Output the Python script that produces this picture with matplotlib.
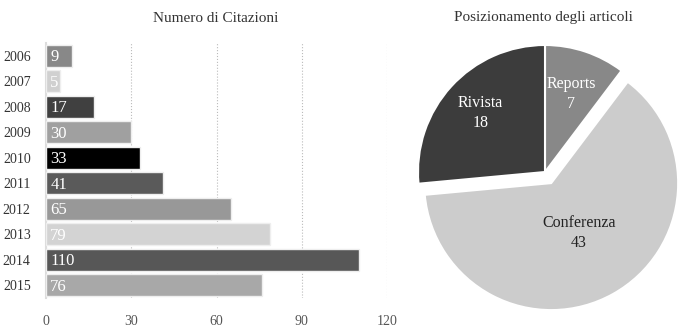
import numpy as np
import matplotlib
matplotlib.use("Agg")
import matplotlib.pyplot as plt

plt.rcParams['font.family'] = ['Liberation Serif', 'DejaVu Serif']

years = ["2006", "2007", "2008", "2009", "2010", "2011", "2012", "2013", "2014", "2015"]
citations = [9, 5, 17, 30, 33, 41, 65, 79, 110, 76]
bar_colors = ["#888888", "#d0d0d0", "#404040", "#a0a0a0", "#000000",
              "#5a5a5a", "#989898", "#d3d3d3", "#575757", "#a8a8a8"]

pie_labels = ["Reports", "Conferenza", "Rivista"]
pie_values = [7, 43, 18]
pie_colors = ["#888888", "#cccccc", "#3c3c3c"]

W, H = 689, 333
fig = plt.figure(figsize=(W / 100, H / 100), dpi=100)

# --- bar chart ---
ax = fig.add_axes([46 / W, 1 - 298 / H, (387 - 46) / W, (298 - 43) / H])
idx = np.arange(len(years))
ax.barh(idx, citations, height=0.88, color=bar_colors, edgecolor="#eeeeee", linewidth=1, zorder=3)
for i, v in zip(idx, citations):
    ax.text(1.5, i + 0.05, str(v), color="white", fontsize=12, va="center", ha="left", zorder=4)
ax.set_ylim(len(years) - 0.5, -0.5)
ax.set_xlim(0, 120)
ax.set_yticks(idx)
ax.set_yticklabels(years, fontsize=10, color="#333333")
ax.set_xticks([0, 30, 60, 90, 120])
ax.tick_params(axis="x", labelsize=10, colors="#555555", length=0, pad=12)
ax.tick_params(axis="y", length=0, pad=11)
ax.grid(axis="x", linestyle=":", color="#bbbbbb", linewidth=0.8, zorder=0)
for s in ["top", "right", "bottom"]:
    ax.spines[s].set_visible(False)
ax.spines["left"].set_color("#dddddd")
ax.spines["left"].set_linewidth(1.5)
ax.patch.set_alpha(0)
fig.text(216 / W, 1 - 18 / H, "Numero di Citazioni", ha="center", va="center", fontsize=11, color="#333333")

# --- pie chart ---
cx, cy, r = 545, 172, 127
half = 1.25 * r
pax = fig.add_axes([(cx - half) / W, 1 - (cy + half) / H, 2 * half / W, 2 * half / H])
wedges, _ = pax.pie(pie_values, colors=pie_colors, startangle=90, counterclock=False,
                    explode=[0, 0.1, 0], wedgeprops=dict(edgecolor="white", linewidth=1.5))
pax.set_xlim(-1.25, 1.25)
pax.set_ylim(-1.25, 1.25)
pax.set_aspect("equal")
pax.axis("off")

label_r = [0.65, 0.45, 0.69]
text_colors = ["white", "#222222", "white"]
for w, lab, val, lr, tc in zip(wedges, pie_labels, pie_values, label_r, text_colors):
    ang = np.deg2rad((w.theta1 + w.theta2) / 2)
    x = w.center[0] + lr * np.cos(ang)
    y = w.center[1] + lr * np.sin(ang)
    pax.text(x, y, f"{lab}\n{val}", ha="center", va="center", fontsize=11.5,
             color=tc, linespacing=1.3)

fig.text(543 / W, 1 - 18 / H, "Posizionamento degli articoli", ha="center", va="center",
         fontsize=11, color="#333333")

fig.savefig("out.png", dpi=100)
